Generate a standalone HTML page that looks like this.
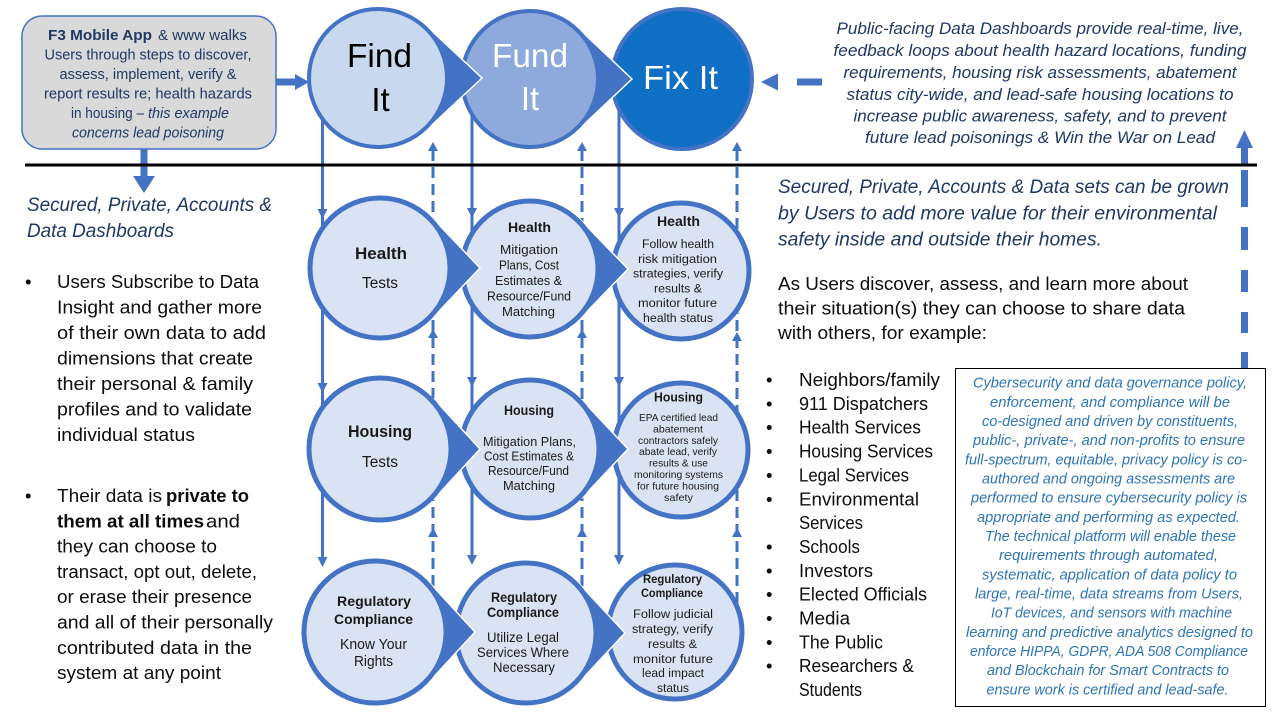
<!DOCTYPE html>
<html><head><meta charset="utf-8"><style>
html,body{margin:0;padding:0;background:#fff;}
body{width:1280px;height:720px;overflow:hidden;}
svg{display:block;font-family:"Liberation Sans",Arial,sans-serif;}
.n{fill:#1F3864}.i{font-style:italic}.b{font-weight:bold}
.k{fill:#1a1a1a}.bl{fill:#2E75B6}
.m{text-anchor:middle}
</style></head><body>
<svg width="1280" height="720" viewBox="0 0 1280 720" xmlns="http://www.w3.org/2000/svg">
<!-- vertical connectors -->
<g stroke="#4472C4" stroke-width="3" fill="none">
<line x1="322.5" y1="112" x2="322.5" y2="560"/>
<line x1="472" y1="110" x2="472" y2="558"/>
<line x1="619" y1="105" x2="619" y2="558"/>
<g stroke-dasharray="11 6">
<line x1="433" y1="150" x2="433" y2="610"/>
<line x1="582" y1="150" x2="582" y2="610"/>
<line x1="737" y1="150" x2="737" y2="612"/>
</g>
</g>
<g fill="#4472C4">
<!-- down arrowheads -->
<polygon points="317.5,209 327.5,209 322.5,219"/>
<polygon points="317.5,383 327.5,383 322.5,393"/>
<polygon points="317.5,557 327.5,557 322.5,567"/>
<polygon points="467,208 477,208 472,218"/>
<polygon points="467,377 477,377 472,387"/>
<polygon points="467,555 477,555 472,565"/>
<polygon points="614,208 624,208 619,218"/>
<polygon points="614,377 624,377 619,387"/>
<polygon points="614,555 624,555 619,565"/>
<!-- up arrowheads -->
<polygon points="428,151 438,151 433,142"/>
<polygon points="428,338 438,338 433,329"/>
<polygon points="428,537 438,537 433,528"/>
<polygon points="577,151 587,151 582,142"/>
<polygon points="577,338 587,338 582,329"/>
<polygon points="577,537 587,537 582,528"/>
<polygon points="732,151 742,151 737,142"/>
<polygon points="732,341 742,341 737,332"/>
<polygon points="732,537 742,537 737,528"/>
<!-- F3 arrows -->
<rect x="276" y="78.5" width="20" height="7"/>
<polygon points="295,74 295,90 309,82"/>
<rect x="140.5" y="149" width="7" height="28"/>
<polygon points="133,176 155,176 144,193"/>
<!-- left dashed arrow top right -->
<polygon points="778,73.5 778,90.5 761,82"/>
<rect x="797" y="78.5" width="25" height="7"/>
<!-- right vertical dashed arrow -->
<polygon points="1236,148 1253,148 1244.5,130"/>
<rect x="1241" y="147" width="7" height="17"/>
<rect x="1241" y="170" width="7" height="37"/>
<rect x="1241" y="227" width="7" height="23"/>
<rect x="1241" y="270" width="7" height="22"/>
<rect x="1241" y="312" width="7" height="21"/>
<rect x="1241" y="352" width="7" height="16"/>
</g>
<!-- horizontal black line -->
<rect x="25" y="163.5" width="1232" height="3" fill="#000"/>

<!-- F3 box -->
<rect x="22" y="16" width="254" height="133" rx="20" ry="20" fill="#D9D9D9" stroke="#4472C4" stroke-width="1.5"/>

<!-- Top row shapes -->
<circle cx="682" cy="79" r="70" fill="#0E6FC5" stroke="#4472C4" stroke-width="4"/>
<polygon points="578,28 632,79 578,130 530,79" fill="#4472C4" stroke="#fff" stroke-width="1.5"/>
<circle cx="530" cy="79" r="68" fill="#8EA9DB" stroke="#4472C4" stroke-width="4"/>
<polygon points="426.5,26 482,78 426.5,130 378,78" fill="#4472C4" stroke="#fff" stroke-width="1.5"/>
<circle cx="378" cy="78" r="69" fill="#C7D8EF" stroke="#4472C4" stroke-width="4"/>

<!-- Grid shapes -->
<g stroke="#4472C4" stroke-width="5" fill="#DAE3F3">
<circle cx="681" cy="271" r="68"/>
<polygon points="580.7,220 628,269 580.7,318 530,269" fill="#4472C4" stroke="#fff" stroke-width="1.5"/>
<circle cx="530" cy="269" r="68"/>
<polygon points="432.5,218 480,268 432.5,318 380,268" fill="#4472C4" stroke="#fff" stroke-width="1.5"/>
<circle cx="380" cy="268" r="70"/>

<circle cx="681" cy="450" r="67"/>
<polygon points="582,400 628,449 582,498 530,449" fill="#4472C4" stroke="#fff" stroke-width="1.5"/>
<circle cx="530" cy="449" r="69"/>
<polygon points="434,399 480,449 434,499 380,449" fill="#4472C4" stroke="#fff" stroke-width="1.5"/>
<circle cx="380" cy="449" r="71"/>

<circle cx="675" cy="632" r="67"/>
<polygon points="579,583.6 625,633 579,682.4 526,633" fill="#4472C4" stroke="#fff" stroke-width="1.5"/>
<circle cx="526" cy="633" r="70"/>
<polygon points="429,582 475,632 429,682 375,632" fill="#4472C4" stroke="#fff" stroke-width="1.5"/>
<circle cx="375" cy="632" r="71"/>
</g>

<!-- Right box -->
<rect x="955.5" y="368.5" width="310" height="338" fill="#fff" stroke="#000" stroke-width="1"/>

<!-- F3 box text -->
<g font-size="14.4" class="n">
<text x="48" y="40" class="b n" textLength="104" lengthAdjust="spacingAndGlyphs">F3 Mobile App</text>
<text x="158" y="40" class="n" textLength="89" lengthAdjust="spacingAndGlyphs">&amp; www walks</text>
<text x="148" y="59.5" class="n m" textLength="207" lengthAdjust="spacingAndGlyphs">Users through steps to discover,</text>
<text x="148" y="79" class="n m" textLength="177" lengthAdjust="spacingAndGlyphs">assess, implement, verify &amp;</text>
<text x="148" y="98.5" class="n m" textLength="208" lengthAdjust="spacingAndGlyphs">report results re; health hazards</text>
<text x="71" y="118" class="n" textLength="73" lengthAdjust="spacingAndGlyphs">in housing –</text>
<text x="148" y="118" class="n i" textLength="81" lengthAdjust="spacingAndGlyphs">this example</text>
<text x="148" y="137.5" class="n i m" textLength="152" lengthAdjust="spacingAndGlyphs">concerns lead poisoning</text>
</g>

<!-- Big labels -->
<g font-size="33" class="m">
<text x="379.5" y="67" fill="#000" textLength="65" lengthAdjust="spacingAndGlyphs">Find</text>
<text x="380.5" y="111" fill="#000">It</text>
<text x="530" y="67" fill="#fff" textLength="76" lengthAdjust="spacingAndGlyphs">Fund</text>
<text x="530" y="110" fill="#fff">It</text>
<text x="680.5" y="89" fill="#fff" textLength="75" lengthAdjust="spacingAndGlyphs">Fix It</text>
</g>

<!-- Top right italic -->
<g font-size="16.5" class="n i m">
<text x="1040" y="34" textLength="407" lengthAdjust="spacingAndGlyphs">Public-facing Data Dashboards provide real-time, live,</text>
<text x="1040" y="56" textLength="413" lengthAdjust="spacingAndGlyphs">feedback loops about health hazard locations, funding</text>
<text x="1040" y="78" textLength="393" lengthAdjust="spacingAndGlyphs">requirements, housing risk assessments, abatement</text>
<text x="1040" y="100" textLength="387" lengthAdjust="spacingAndGlyphs">status city-wide, and lead-safe housing locations to</text>
<text x="1040" y="121.5" textLength="373" lengthAdjust="spacingAndGlyphs">increase public awareness, safety, and to prevent</text>
<text x="1040" y="143" textLength="350" lengthAdjust="spacingAndGlyphs">future lead poisonings &amp; Win the War on Lead</text>
</g>

<!-- Right italic section -->
<g font-size="19" class="n i">
<text x="778" y="193" textLength="451" lengthAdjust="spacingAndGlyphs">Secured, Private, Accounts &amp; Data sets can be grown</text>
<text x="778" y="219.5" textLength="439" lengthAdjust="spacingAndGlyphs">by Users to add more value for their environmental</text>
<text x="778" y="245.5" textLength="324" lengthAdjust="spacingAndGlyphs">safety inside and outside their homes.</text>
</g>
<g font-size="18.6" fill="#0d0d0d">
<text x="778" y="290" textLength="410" lengthAdjust="spacingAndGlyphs">As Users discover, assess, and learn more about</text>
<text x="778" y="314.5" textLength="407" lengthAdjust="spacingAndGlyphs">their situation(s) they can choose to share data</text>
<text x="778" y="339" textLength="209" lengthAdjust="spacingAndGlyphs">with others, for example:</text>
</g>

<!-- Bullet list -->
<g font-size="18.5" fill="#0d0d0d">
<text x="766" y="386">•</text><text x="799" y="386" textLength="141" lengthAdjust="spacingAndGlyphs">Neighbors/family</text>
<text x="766" y="409.9">•</text><text x="799" y="409.9" textLength="129" lengthAdjust="spacingAndGlyphs">911 Dispatchers</text>
<text x="766" y="433.7">•</text><text x="799" y="433.7" textLength="122" lengthAdjust="spacingAndGlyphs">Health Services</text>
<text x="766" y="457.6">•</text><text x="799" y="457.6" textLength="134" lengthAdjust="spacingAndGlyphs">Housing Services</text>
<text x="766" y="481.4">•</text><text x="799" y="481.4" textLength="110" lengthAdjust="spacingAndGlyphs">Legal Services</text>
<text x="766" y="505.3">•</text><text x="799" y="505.3" textLength="120" lengthAdjust="spacingAndGlyphs">Environmental</text>
<text x="799" y="529.1" textLength="64" lengthAdjust="spacingAndGlyphs">Services</text>
<text x="766" y="553">•</text><text x="799" y="553" textLength="61" lengthAdjust="spacingAndGlyphs">Schools</text>
<text x="766" y="576.8">•</text><text x="799" y="576.8" textLength="74" lengthAdjust="spacingAndGlyphs">Investors</text>
<text x="766" y="600.7">•</text><text x="799" y="600.7" textLength="128" lengthAdjust="spacingAndGlyphs">Elected Officials</text>
<text x="766" y="624.5">•</text><text x="799" y="624.5" textLength="51" lengthAdjust="spacingAndGlyphs">Media</text>
<text x="766" y="648.4">•</text><text x="799" y="648.4" textLength="84" lengthAdjust="spacingAndGlyphs">The Public</text>
<text x="766" y="672.2">•</text><text x="799" y="672.2" textLength="115" lengthAdjust="spacingAndGlyphs">Researchers &amp;</text>
<text x="799" y="696" textLength="63" lengthAdjust="spacingAndGlyphs">Students</text>
</g>

<!-- Right box text -->
<g font-size="14.5" class="bl i m">
<text x="1110" y="387.7" textLength="274" lengthAdjust="spacingAndGlyphs">Cybersecurity and data governance policy,</text>
<text x="1110" y="406.9" textLength="240" lengthAdjust="spacingAndGlyphs">enforcement, and compliance will be</text>
<text x="1110" y="426" textLength="256" lengthAdjust="spacingAndGlyphs">co-designed and driven by constituents,</text>
<text x="1109" y="445.2" textLength="272" lengthAdjust="spacingAndGlyphs">public-, private-, and non-profits to ensure</text>
<text x="1106" y="464.4" textLength="282" lengthAdjust="spacingAndGlyphs">full-spectrum, equitable, privacy policy is co-</text>
<text x="1108.5" y="483.5" textLength="253" lengthAdjust="spacingAndGlyphs">authored and ongoing assessments are</text>
<text x="1109" y="502.7" textLength="276" lengthAdjust="spacingAndGlyphs">performed to ensure cybersecurity policy is</text>
<text x="1108.5" y="521.9" textLength="263" lengthAdjust="spacingAndGlyphs">appropriate and performing as expected.</text>
<text x="1110.5" y="541.1" textLength="251" lengthAdjust="spacingAndGlyphs">The technical platform will enable these</text>
<text x="1108.5" y="560.2" textLength="219" lengthAdjust="spacingAndGlyphs">requirements through automated,</text>
<text x="1109.5" y="579.4" textLength="255" lengthAdjust="spacingAndGlyphs">systematic, application of data policy to</text>
<text x="1109" y="598.6" textLength="268" lengthAdjust="spacingAndGlyphs">large, real-time, data streams from Users,</text>
<text x="1111.5" y="617.7" textLength="241" lengthAdjust="spacingAndGlyphs">IoT devices, and sensors with machine</text>
<text x="1109.5" y="636.9" textLength="287" lengthAdjust="spacingAndGlyphs">learning and predictive analytics designed to</text>
<text x="1109" y="656.1" textLength="278" lengthAdjust="spacingAndGlyphs">enforce HIPPA, GDPR, ADA 508 Compliance</text>
<text x="1108" y="675.2" textLength="242" lengthAdjust="spacingAndGlyphs">and Blockchain for Smart Contracts to</text>
<text x="1107.5" y="694.4" textLength="242" lengthAdjust="spacingAndGlyphs">ensure work is certified and lead-safe.</text>
</g>

<!-- Left section -->
<g font-size="19" class="n i">
<text x="27" y="211" textLength="245" lengthAdjust="spacingAndGlyphs">Secured, Private, Accounts &amp;</text>
<text x="27" y="237" textLength="147" lengthAdjust="spacingAndGlyphs">Data Dashboards</text>
</g>
<g font-size="18.6" fill="#0d0d0d">
<text x="25" y="288">•</text>
<text x="57" y="288" textLength="202" lengthAdjust="spacingAndGlyphs">Users Subscribe to Data</text>
<text x="57" y="313.5" textLength="205" lengthAdjust="spacingAndGlyphs">Insight and gather more</text>
<text x="57" y="339" textLength="209" lengthAdjust="spacingAndGlyphs">of their own data to add</text>
<text x="57" y="364.5" textLength="196" lengthAdjust="spacingAndGlyphs">dimensions that create</text>
<text x="57" y="390" textLength="196" lengthAdjust="spacingAndGlyphs">their personal &amp; family</text>
<text x="57" y="415.5" textLength="195" lengthAdjust="spacingAndGlyphs">profiles and to validate</text>
<text x="57" y="441" textLength="138" lengthAdjust="spacingAndGlyphs">individual status</text>

<text x="25" y="502">•</text>
<text x="57" y="502" textLength="105" lengthAdjust="spacingAndGlyphs">Their data is</text>
<text x="166" y="502" class="b" textLength="83" lengthAdjust="spacingAndGlyphs">private to</text>
<text x="57" y="527.3" class="b" textLength="147" lengthAdjust="spacingAndGlyphs">them at all times</text>
<text x="206" y="527.3" textLength="34" lengthAdjust="spacingAndGlyphs">and</text>
<text x="57" y="552.6" textLength="160" lengthAdjust="spacingAndGlyphs">they can choose to</text>
<text x="57" y="577.9" textLength="200" lengthAdjust="spacingAndGlyphs">transact, opt out, delete,</text>
<text x="57" y="603.2" textLength="195" lengthAdjust="spacingAndGlyphs">or erase their presence</text>
<text x="57" y="628.5" textLength="216" lengthAdjust="spacingAndGlyphs">and all of their personally</text>
<text x="57" y="653.8" textLength="195" lengthAdjust="spacingAndGlyphs">contributed data in the</text>
<text x="57" y="679" textLength="164" lengthAdjust="spacingAndGlyphs">system at any point</text>
</g>

<!-- Grid text -->
<g class="k m">
<!-- Row 1 -->
<text x="381" y="259" font-size="16.5" class="b" textLength="52" lengthAdjust="spacingAndGlyphs">Health</text>
<text x="380" y="288" font-size="15.5" textLength="36" lengthAdjust="spacingAndGlyphs">Tests</text>

<text x="529.5" y="232" font-size="14" class="b" textLength="43" lengthAdjust="spacingAndGlyphs">Health</text>
<g font-size="13">
<text x="529" y="254" textLength="58" lengthAdjust="spacingAndGlyphs">Mitigation</text>
<text x="529" y="269.5" textLength="60" lengthAdjust="spacingAndGlyphs">Plans, Cost</text>
<text x="528.5" y="285" textLength="67" lengthAdjust="spacingAndGlyphs">Estimates &amp;</text>
<text x="529" y="300.5" textLength="84" lengthAdjust="spacingAndGlyphs">Resource/Fund</text>
<text x="528.5" y="316" textLength="53" lengthAdjust="spacingAndGlyphs">Matching</text>
</g>

<text x="678.5" y="226" font-size="14" class="b" textLength="43" lengthAdjust="spacingAndGlyphs">Health</text>
<g font-size="12.3">
<text x="678" y="248" textLength="72" lengthAdjust="spacingAndGlyphs">Follow health</text>
<text x="677.5" y="262.8" textLength="79" lengthAdjust="spacingAndGlyphs">risk mitigation</text>
<text x="678" y="277.6" textLength="90" lengthAdjust="spacingAndGlyphs">strategies, verify</text>
<text x="678" y="292.4" textLength="48" lengthAdjust="spacingAndGlyphs">results &amp;</text>
<text x="677.5" y="307.2" textLength="79" lengthAdjust="spacingAndGlyphs">monitor future</text>
<text x="678" y="322" textLength="70" lengthAdjust="spacingAndGlyphs">health status</text>
</g>

<!-- Row 2 -->
<text x="380" y="437" font-size="16.5" class="b" textLength="64" lengthAdjust="spacingAndGlyphs">Housing</text>
<text x="380" y="467" font-size="15.5" textLength="36" lengthAdjust="spacingAndGlyphs">Tests</text>

<text x="529" y="415" font-size="13.5" class="b" textLength="50" lengthAdjust="spacingAndGlyphs">Housing</text>
<g font-size="13">
<text x="529.5" y="446" textLength="93" lengthAdjust="spacingAndGlyphs">Mitigation Plans,</text>
<text x="529" y="460.5" textLength="90" lengthAdjust="spacingAndGlyphs">Cost Estimates &amp;</text>
<text x="528.5" y="475" textLength="81" lengthAdjust="spacingAndGlyphs">Resource/Fund</text>
<text x="529" y="490" textLength="52" lengthAdjust="spacingAndGlyphs">Matching</text>
</g>

<text x="678.5" y="401.5" font-size="13" class="b" textLength="49" lengthAdjust="spacingAndGlyphs">Housing</text>
<g font-size="10.3">
<text x="678.5" y="421" textLength="79" lengthAdjust="spacingAndGlyphs">EPA certified lead</text>
<text x="678" y="432.4" textLength="50" lengthAdjust="spacingAndGlyphs">abatement</text>
<text x="678" y="443.8" textLength="80" lengthAdjust="spacingAndGlyphs">contractors safely</text>
<text x="678" y="455.2" textLength="78" lengthAdjust="spacingAndGlyphs">abate lead, verify</text>
<text x="678.5" y="466.6" textLength="59" lengthAdjust="spacingAndGlyphs">results &amp; use</text>
<text x="678.5" y="478" textLength="89" lengthAdjust="spacingAndGlyphs">monitoring systems</text>
<text x="678" y="489.4" textLength="82" lengthAdjust="spacingAndGlyphs">for future housing</text>
<text x="678.5" y="500.8" textLength="29" lengthAdjust="spacingAndGlyphs">safety</text>
</g>

<!-- Row 3 -->
<text x="374" y="606" font-size="14.2" class="b" textLength="74" lengthAdjust="spacingAndGlyphs">Regulatory</text>
<text x="373.5" y="624" font-size="14.2" class="b" textLength="79" lengthAdjust="spacingAndGlyphs">Compliance</text>
<text x="373.5" y="649" font-size="15" textLength="67" lengthAdjust="spacingAndGlyphs">Know Your</text>
<text x="373.5" y="666" font-size="15" textLength="39" lengthAdjust="spacingAndGlyphs">Rights</text>

<text x="524" y="602" font-size="13.5" class="b" textLength="66" lengthAdjust="spacingAndGlyphs">Regulatory</text>
<text x="523" y="617" font-size="13.5" class="b" textLength="72" lengthAdjust="spacingAndGlyphs">Compliance</text>
<g font-size="13.5">
<text x="523" y="642" textLength="72" lengthAdjust="spacingAndGlyphs">Utilize Legal</text>
<text x="523" y="657" textLength="92" lengthAdjust="spacingAndGlyphs">Services Where</text>
<text x="524" y="672" textLength="62" lengthAdjust="spacingAndGlyphs">Necessary</text>
</g>

<text x="672.5" y="583" font-size="11.5" class="b" textLength="59" lengthAdjust="spacingAndGlyphs">Regulatory</text>
<text x="672" y="597" font-size="11.5" class="b" textLength="62" lengthAdjust="spacingAndGlyphs">Compliance</text>
<g font-size="12.3">
<text x="673" y="618" textLength="80" lengthAdjust="spacingAndGlyphs">Follow judicial</text>
<text x="672.5" y="633" textLength="81" lengthAdjust="spacingAndGlyphs">strategy, verify</text>
<text x="672.5" y="648" textLength="49" lengthAdjust="spacingAndGlyphs">results &amp;</text>
<text x="673" y="663" textLength="80" lengthAdjust="spacingAndGlyphs">monitor future</text>
<text x="673" y="677" textLength="62" lengthAdjust="spacingAndGlyphs">lead impact</text>
<text x="673" y="692" textLength="32" lengthAdjust="spacingAndGlyphs">status</text>
</g>
</g>
</svg>
</body></html>
